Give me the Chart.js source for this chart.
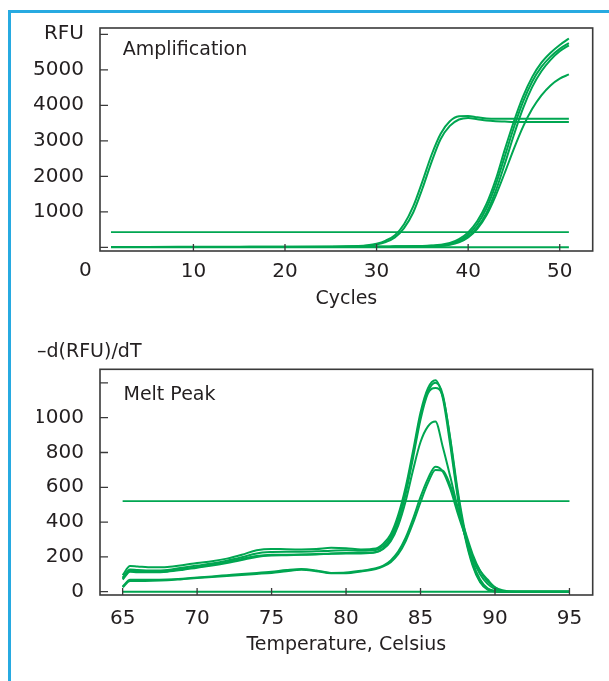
<!DOCTYPE html>
<html>
<head>
<meta charset="utf-8">
<title>Amplification and Melt Peak</title>
<script src="https://cdn.jsdelivr.net/npm/chart.js@4.4.1/dist/chart.umd.min.js"></script>
<style>
  html, body { margin: 0; padding: 0; background: #fff; }
  #wrap { position: relative; width: 609px; height: 681px; overflow: hidden; background: #fff; }
  #frame { position: absolute; left: 8px; top: 10px; width: 700px; height: 800px;
           border-left: 3px solid #27aae1; border-top: 3px solid #27aae1; }
  canvas { position: absolute; left: 0; }
  #amp { top: 0; }
  #melt { top: 320px; }
</style>
</head>
<body>
<div id="wrap">
  <div id="frame"></div>
  <canvas id="amp" width="609" height="320"></canvas>
  <canvas id="melt" width="609" height="361"></canvas>
</div>
<script>
// ---- amplification (RFU per cycle) ----
const cycles = [1, 5, 10, 15, 20, 25, 28, 29, 30, 31, 32, 33, 34, 35, 36, 37, 38, 39, 40, 41, 42, 43, 44, 45, 46, 47, 48, 49, 50, 51];
const ampEarly1 = [12, 12, 13, 14, 16, 20, 35, 55, 100, 190, 340, 650, 1150, 1850, 2600, 3200, 3550, 3690, 3700, 3660, 3630, 3620, 3620, 3620, 3620, 3620, 3620, 3620, 3620, 3620];
const ampEarly2 = [10, 10, 11, 12, 14, 18, 30, 45, 80, 150, 280, 540, 980, 1650, 2400, 3050, 3420, 3600, 3645, 3610, 3570, 3550, 3540, 3530, 3530, 3530, 3530, 3530, 3530, 3530];
const ampLate1 = [8, 8, 8, 9, 10, 12, 14, 15, 16, 18, 20, 24, 28, 35, 48, 70, 120, 230, 420, 740, 1220, 1900, 2750, 3550, 4250, 4800, 5200, 5480, 5700, 5880];
const ampLate2 = [8, 8, 8, 9, 10, 12, 14, 15, 16, 18, 20, 23, 27, 33, 42, 55, 100, 190, 360, 650, 1100, 1750, 2560, 3380, 4100, 4670, 5080, 5370, 5590, 5750];
const ampLate3 = [8, 8, 8, 9, 10, 12, 14, 15, 16, 18, 20, 22, 26, 31, 38, 45, 85, 160, 300, 560, 970, 1580, 2350, 3170, 3920, 4520, 4960, 5280, 5520, 5690];
const ampLate4 = [8, 8, 8, 9, 10, 12, 14, 15, 16, 18, 20, 22, 25, 30, 35, 40, 70, 140, 280, 520, 900, 1450, 2100, 2780, 3400, 3900, 4280, 4560, 4750, 4870];
const ampNtc = [0, 0, 0, 0, 0, 0, 0, 0, 0, 0, 0, 0, 0, 0, 0, 0, 0, 0, 0, 0, 0, 0, 0, 0, 0, 0, 0, 0, 0, 0];
const ampThreshold = 430;
const ampXTicks = [0, 10, 20, 30, 40, 50];
const ampYTicks = [0, 1000, 2000, 3000, 4000, 5000, 6000];

// ---- melt peak (-d(RFU)/dT per temperature) ----
const temps = [65, 65.5, 66, 67, 68, 69, 70, 71, 72, 73, 74, 75, 76, 77, 78, 79, 80, 81, 82, 82.5, 83, 83.5, 84, 84.5, 85, 85.5, 86, 86.5, 87, 87.5, 88, 88.5, 89, 89.5, 90, 90.5, 91, 92, 93, 94, 95];
const meltHigh1 = [95, 148, 145, 140, 142, 152, 165, 175, 190, 212, 238, 246, 244, 243, 245, 252, 250, 243, 248, 275, 330, 440, 600, 810, 1030, 1170, 1215, 1110, 840, 540, 310, 150, 55, 12, 2, 0, 0, 0, 0, 0, 0];
const meltHigh2 = [80, 128, 125, 122, 125, 138, 150, 162, 178, 198, 220, 228, 230, 230, 232, 236, 238, 236, 240, 262, 315, 420, 580, 790, 1010, 1150, 1200, 1130, 870, 560, 320, 160, 60, 15, 3, 0, 0, 0, 0, 0, 0];
const meltHigh3 = [75, 120, 118, 115, 118, 130, 142, 155, 170, 188, 205, 212, 213, 214, 216, 220, 222, 222, 228, 250, 300, 400, 560, 770, 990, 1140, 1170, 1120, 880, 580, 340, 170, 70, 20, 4, 0, 0, 0, 0, 0, 0];
const meltMid = [70, 115, 112, 112, 115, 125, 138, 150, 165, 182, 200, 208, 210, 212, 214, 218, 220, 220, 226, 245, 290, 380, 520, 700, 860, 950, 978, 830, 660, 480, 320, 200, 120, 70, 25, 3, 0, 0, 0, 0, 0];
const meltLow1 = [30, 68, 68, 68, 70, 75, 82, 88, 95, 102, 108, 115, 124, 130, 122, 108, 110, 120, 135, 150, 180, 230, 310, 420, 545, 650, 718, 690, 590, 450, 320, 190, 100, 45, 15, 3, 0, 0, 0, 0, 0];
const meltLow2 = [25, 62, 62, 63, 66, 72, 78, 84, 90, 96, 102, 108, 118, 126, 118, 106, 106, 116, 130, 145, 170, 215, 290, 395, 515, 625, 700, 695, 610, 480, 345, 215, 120, 60, 25, 8, 1, 0, 0, 0, 0];
const meltZero = [0, 0, 0, 0, 0, 0, 0, 0, 0, 0, 0, 0, 0, 0, 0, 0, 0, 0, 0, 0, 0, 0, 0, 0, 0, 0, 0, 0, 0, 0, 0, 0, 0, 0, 0, 0, 0, 0, 0, 0, 0];
const meltThreshold = 520;
const meltXTicks = [65, 70, 75, 80, 85, 90, 95];
const meltYTicks = [0, 200, 400, 600, 800, 1000, 1200];

const GREEN = '#00a651';
const INK = '#231f20';
Chart.defaults.font.family = '"DejaVu Sans", sans-serif';
Chart.defaults.color = INK;

function pts(xs, ys) {
    return xs.map((x, i) => ({ x: x, y: ys[i] }));
}
function line(data, w) {
    return {
        data: data,
        borderColor: GREEN,
        borderWidth: w || 2,
        pointRadius: 0,
        fill: false,
        cubicInterpolationMode: 'monotone'
    };
}
function fixedTicks(list) {
    return s => { s.ticks = list.map(v => ({ value: v })); };
}

// box round the plot, ticks pointing inward and the label in the corner
const boxAndTicks = {
    id: 'boxAndTicks',
    afterDraw(chart, args, opts) {
        const { ctx, chartArea: a, scales } = chart;
        ctx.save();
        ctx.strokeStyle = '#3a3a3a';
        ctx.lineWidth = 1.6;
        ctx.strokeRect(a.left, a.top, a.right - a.left, a.bottom - a.top);
        ctx.lineWidth = 1.3;
        ctx.beginPath();
        scales.y.ticks.forEach(t => {
            const y = scales.y.getPixelForValue(t.value);
            ctx.moveTo(a.left, y);
            ctx.lineTo(a.left + 8, y);
        });
        scales.x.ticks.forEach(t => {
            if (opts.skipX === t.value) return;
            const x = scales.x.getPixelForValue(t.value);
            ctx.moveTo(x, a.bottom);
            ctx.lineTo(x, a.bottom - 7);
        });
        ctx.stroke();
        ctx.fillStyle = INK;
        ctx.textBaseline = 'middle';
        ctx.textAlign = 'left';
        ctx.font = '19px "DejaVu Sans"';
        ctx.fillText(opts.label, a.left + opts.dx, a.top + opts.dy);
        if (opts.zeroLabel) {
            ctx.textAlign = 'center';
            ctx.font = '20px "DejaVu Sans"';
            ctx.fillText('0', scales.x.getPixelForValue(0) - 16.5, a.bottom + 20);
        }
        ctx.restore();
    }
};

new Chart(document.getElementById('amp'), {
    type: 'line',
    data: {
        datasets: [
            line(pts(cycles, ampNtc)),
            line([{ x: 1, y: ampThreshold }, { x: 51, y: ampThreshold }], 1.8),
            line(pts(cycles, ampEarly1)),
            line(pts(cycles, ampEarly2)),
            line(pts(cycles, ampLate1)),
            line(pts(cycles, ampLate2)),
            line(pts(cycles, ampLate3)),
            line(pts(cycles, ampLate4))
        ]
    },
    options: {
        responsive: false,
        animation: false,
        layout: { padding: { top: 28, right: 16.3, bottom: 0, left: 0 } },
        plugins: {
            legend: { display: false },
            tooltip: { enabled: false },
            boxAndTicks: { label: 'Amplification', dx: 22.7, dy: 22, skipX: 0, zeroLabel: true }
        },
        scales: {
            x: {
                type: 'linear',
                min: -0.2,
                max: 53.6,
                grid: { display: false },
                border: { display: false },
                afterBuildTicks: fixedTicks(ampXTicks),
                afterFit: s => { s.height = 69; },
                ticks: {
                    padding: 1,
                    font: { size: 20 },
                    callback: v => (v === 0 ? '' : v)
                },
                title: { display: true, text: 'Cycles', font: { size: 19 }, padding: { top: 0, bottom: 10 } }
            },
            y: {
                min: -104,
                max: 6177,
                grid: { display: false },
                border: { display: false },
                afterBuildTicks: fixedTicks(ampYTicks),
                afterFit: s => { s.width = 100; },
                ticks: {
                    padding: 8,
                    font: { size: 20 },
                    callback: v => (v === 0 ? '' : v === 6000 ? 'RFU' : v)
                }
            }
        }
    },
    plugins: [boxAndTicks]
});

new Chart(document.getElementById('melt'), {
    type: 'line',
    data: {
        datasets: [
            line(pts(temps, meltZero)),
            line([{ x: 65, y: meltThreshold }, { x: 95, y: meltThreshold }], 1.8),
            line(pts(temps, meltLow1)),
            line(pts(temps, meltLow2)),
            line(pts(temps, meltMid)),
            line(pts(temps, meltHigh3)),
            line(pts(temps, meltHigh2)),
            line(pts(temps, meltHigh1))
        ]
    },
    options: {
        responsive: false,
        animation: false,
        layout: { padding: { top: 0, right: 16.3, bottom: 0, left: 37 } },
        plugins: {
            legend: { display: false },
            tooltip: { enabled: false },
            title: {
                display: true,
                text: '\u2013d(RFU)/dT',
                align: 'start',
                color: INK,
                font: { size: 19, weight: 'normal' },
                padding: { top: 20.6, bottom: 5.9 }
            },
            boxAndTicks: { label: 'Melt Peak', dx: 23.5, dy: 25.7 }
        },
        scales: {
            x: {
                type: 'linear',
                min: 63.48,
                max: 96.56,
                grid: { display: false },
                border: { display: false },
                afterBuildTicks: fixedTicks(meltXTicks),
                afterFit: s => { s.height = 86; },
                ticks: { padding: 4, font: { size: 20 } },
                title: { display: true, text: 'Temperature, Celsius', font: { size: 19 }, padding: { top: 0, bottom: 24.6 } }
            },
            y: {
                min: -19,
                max: 1278,
                grid: { display: false },
                border: { display: false },
                afterBuildTicks: fixedTicks(meltYTicks),
                afterFit: s => { s.width = 63; },
                ticks: {
                    padding: 8,
                    font: { size: 20 },
                    callback: v => (v === 1200 ? '' : v)
                }
            }
        }
    },
    plugins: [boxAndTicks]
});
</script>
</body>
</html>
